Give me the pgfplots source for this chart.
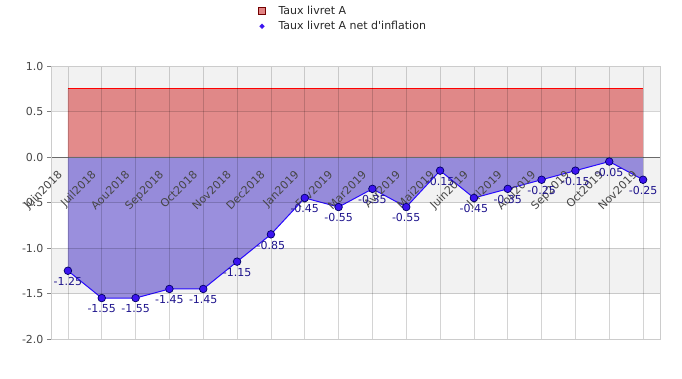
\documentclass[border=0pt]{standalone}
\usepackage{fontspec}
\setmainfont{DejaVu Sans}
\usepackage{pgfplots}
\pgfplotsset{compat=1.18}
\definecolor{bandgray}{RGB}{242,242,242}
\definecolor{redfill}{RGB}{220,110,110}
\definecolor{bluefill}{RGB}{120,105,210}
\definecolor{lineblue}{RGB}{40,10,255}
\definecolor{markblue}{RGB}{60,20,240}
\definecolor{labelblue}{RGB}{30,20,140}
\definecolor{ticklab}{RGB}{70,70,70}
\begin{document}
\begin{tikzpicture}[font=\fontsize{11bp}{13bp}\selectfont]
\begin{axis}[
  axis on top,
  scale only axis, width=609bp, height=273bp,
  xmin=-0.5, xmax=17.5, ymin=-2, ymax=1,
  xtick={0,...,17},
  xticklabels={Juin2018,Juil2018,Aou2018,Sep2018,Oct2018,Nov2018,Dec2018,Jan2019,Fev2019,Mar2019,Avr2019,Mai2019,Juin2019,Juil2019,Aou2019,Sep2019,Oct2019,Nov2019},
  ytick={-2,-1.5,-1,-0.5,0,0.5,1},
  grid=major, grid style={black, opacity=0.17, line width=0.7bp},
  axis line style={black!20},
  ytick pos=left, tick align=outside, major tick length=4bp,
  ytick style={gray, line width=0.6bp},
  xtick style={draw=none},
  /pgf/number format/assume math mode=true,
  yticklabel style={ticklab, /pgf/number format/.cd, fixed, fixed zerofill, precision=1},
  xticklabel style={ticklab, yshift=178bp, xshift=-11bp, rotate=45, anchor=north east},
  legend style={at={(0.338,1.228)}, anchor=north west, draw=none, fill=none, inner sep=0pt, text=black!85, cells={anchor=west}, row sep=1.5bp},
  legend cell align=left,
]
\fill[bandgray] (axis cs:-0.5,0.5) rectangle (axis cs:17.5,1);
\fill[bandgray] (axis cs:-0.5,-0.5) rectangle (axis cs:17.5,0);
\fill[bandgray] (axis cs:-0.5,-1.5) rectangle (axis cs:17.5,-1);
\addlegendimage{legend image code/.code={\path[draw=none,fill=none] (0,-1bp) rectangle (0.15em+18bp,1bp); \draw[fill=redfill!85, draw=red!45!black, line width=0.5bp] (0.15em,-3.5bp) rectangle (0.15em+7bp,3.5bp);}}
\addlegendentry{Taux livret A}
\addlegendimage{legend image code/.code={\path[draw=none,fill=none] (0,-1bp) rectangle (0.15em+18bp,1bp); \fill[markblue] (0.15em+3.5bp,0) ++(-2.3bp,0) -- ++(2.3bp,2.3bp) -- ++(2.3bp,-2.3bp) -- ++(-2.3bp,-2.3bp) -- cycle;}}
\addlegendentry{Taux livret A net d\textquotesingle inflation}
\addplot[draw=none, fill=redfill, fill opacity=0.8, forget plot] coordinates {
(0,0.75) (1,0.75) (2,0.75) (3,0.75) (4,0.75) (5,0.75) (6,0.75) (7,0.75) (8,0.75)
(9,0.75) (10,0.75) (11,0.75) (12,0.75) (13,0.75) (14,0.75) (15,0.75) (16,0.75) (17,0.75)} \closedcycle;
\addplot[draw=none, fill=bluefill, fill opacity=0.75, forget plot] coordinates {
(0,-1.25) (1,-1.55) (2,-1.55) (3,-1.45) (4,-1.45) (5,-1.15) (6,-0.85) (7,-0.45) (8,-0.55)
(9,-0.35) (10,-0.55) (11,-0.15) (12,-0.45) (13,-0.35) (14,-0.25) (15,-0.15) (16,-0.05) (17,-0.25)} \closedcycle;
\draw[gray, line width=0.8bp] (axis cs:-0.5,0) -- (axis cs:17.5,0);
\addplot[red, line width=1bp, forget plot] coordinates {
(0,0.75) (1,0.75) (2,0.75) (3,0.75) (4,0.75) (5,0.75) (6,0.75) (7,0.75) (8,0.75)
(9,0.75) (10,0.75) (11,0.75) (12,0.75) (13,0.75) (14,0.75) (15,0.75) (16,0.75) (17,0.75)};
\addplot[lineblue, line width=1bp, mark=*, mark size=3.8bp,
  mark options={fill=markblue, draw=black!60!blue, line width=0.7bp},
  nodes near coords, point meta=explicit symbolic,
  nodes near coords style={labelblue, anchor=north, yshift=-3bp}, forget plot] coordinates {
(0,-1.25) [-1.25] (1,-1.55) [-1.55] (2,-1.55) [-1.55] (3,-1.45) [-1.45] (4,-1.45) [-1.45]
(5,-1.15) [-1.15] (6,-0.85) [-0.85] (7,-0.45) [-0.45] (8,-0.55) [-0.55] (9,-0.35) [-0.35]
(10,-0.55) [-0.55] (11,-0.15) [-0.15] (12,-0.45) [-0.45] (13,-0.35) [-0.35] (14,-0.25) [-0.25]
(15,-0.15) [-0.15] (16,-0.05) [-0.05] (17,-0.25) [-0.25]};
\end{axis}
\pgfresetboundingbox
\path[use as bounding box] (-51bp,-40bp) rectangle (631bp,339bp);
\end{tikzpicture}
\end{document}
